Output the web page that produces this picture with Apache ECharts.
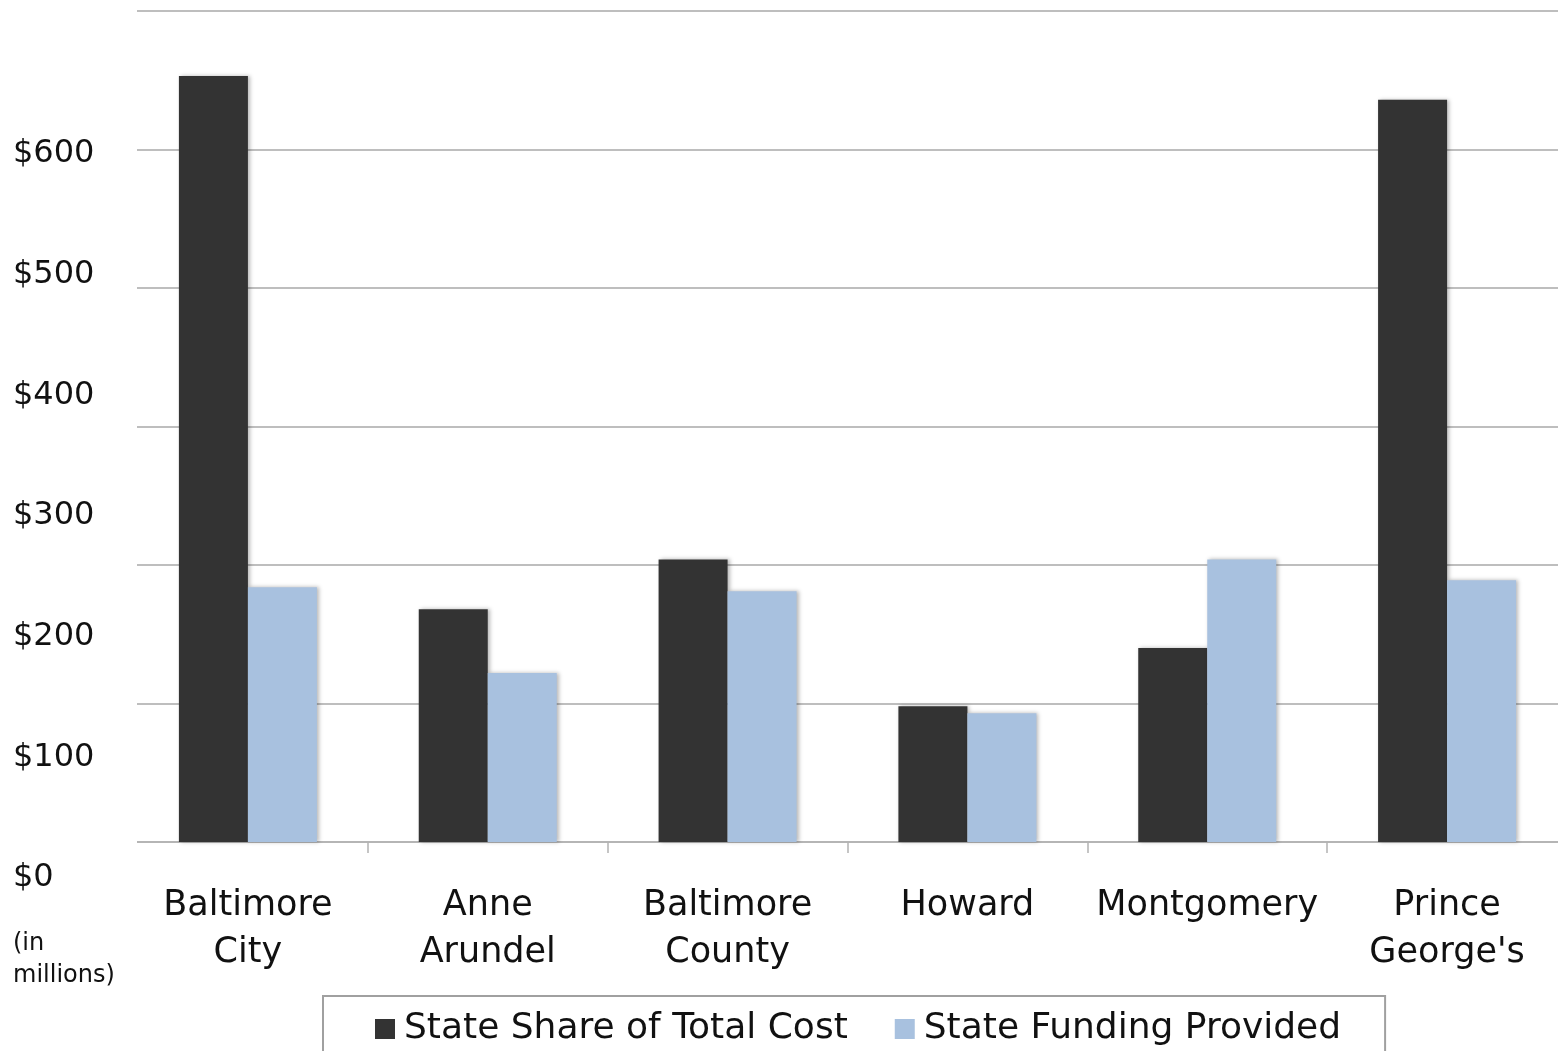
<!DOCTYPE html>
<html>
<head>
<meta charset="utf-8">
<script src="https://cdn.jsdelivr.net/npm/echarts@6/dist/echarts.min.js"></script>
<style>
html,body{margin:0;padding:0;background:#fff;}
#chart{width:1558px;height:1051px;}
</style>
</head>
<body>
<div id="chart"></div>
<script>
const categories = ['Baltimore\nCity', 'Anne\nArundel', 'Baltimore\nCounty', 'Howard', 'Montgomery', "Prince\nGeorge's"];
const stateShare = [553, 168, 204, 98, 140, 536];
const stateFunding = [184, 122, 181, 93, 204, 189];
const seriesNames = ['State Share of Total Cost', 'State Funding Provided'];
const yTickLabels = ['$0', '$100', '$200', '$300', '$400', '$500', '$600'];
const unitNote = '(in\nmillions)';

const FONT = 'DejaVu Sans';
const chart = echarts.init(document.getElementById('chart'), null, {renderer: 'canvas'});

const barShadow = {shadowBlur: 4, shadowOffsetX: 2, shadowOffsetY: 0, shadowColor: 'rgba(0,0,0,0.28)'};

chart.setOption({
  animation: false,
  backgroundColor: '#ffffff',
  textStyle: {fontFamily: FONT},
  grid: [
    {left: 128, width: 1439, top: 11, bottom: 209, containLabel: false, outerBoundsMode: 'none'},
    {left: 100, width: 50, top: 154, bottom: 173, containLabel: false, outerBoundsMode: 'none'}
  ],
  xAxis: [
    {
      type: 'category', gridIndex: 0, data: categories, boundaryGap: true,
      axisLine: {show: true, lineStyle: {color: '#b3b3b3', width: 1.5}},
      axisTick: {show: true, length: 11, interval: 0, lineStyle: {color: '#b3b3b3', width: 1.5}},
      axisLabel: {interval: 0, margin: 40, color: '#111', fontFamily: FONT, fontSize: 35, lineHeight: 47}
    },
    {type: 'value', gridIndex: 1, show: false, min: 0, max: 1}
  ],
  yAxis: [
    {
      type: 'value', gridIndex: 0, min: 0, max: 600, interval: 100,
      axisLine: {show: false}, axisTick: {show: false}, axisLabel: {show: false},
      splitLine: {show: true, lineStyle: {color: '#a8a8a8', width: 1.5}}
    },
    {
      type: 'value', gridIndex: 1, min: 0, max: 600, interval: 100,
      axisLine: {show: false}, axisTick: {show: false}, splitLine: {show: false},
      axisLabel: {
        show: true, align: 'left', margin: 87, color: '#111', fontFamily: FONT, fontSize: 32,
        formatter: function (v) { return yTickLabels[Math.round(v / 100)]; }
      }
    }
  ],
  legend: {
    show: true,
    left: 323, top: 996,
    padding: [13, 44, 40, 52],
    borderColor: '#a0a0a0', borderWidth: 2,
    itemWidth: 20, itemHeight: 20, itemGap: 47,
    icon: 'rect',
    textStyle: {fontFamily: FONT, fontSize: 36, color: '#111', lineHeight: 40, padding: [0, 0, 0, 4]},
    data: seriesNames
  },
  graphic: [
    {type: 'rect', z: 100, shape: {x: 118, y: 0, width: 19, height: 860}, style: {fill: '#ffffff'}},
    {type: 'text', z: 100, left: 13, top: 928,
     style: {text: unitNote, font: '24px "DejaVu Sans"', fill: '#111', lineHeight: 32}}
  ],
  series: [
    {
      name: seriesNames[0], type: 'bar', xAxisIndex: 0, yAxisIndex: 0,
      data: stateShare, barWidth: 69, barGap: '0%',
      itemStyle: Object.assign({color: '#333333'}, barShadow)
    },
    {
      name: seriesNames[1], type: 'bar', xAxisIndex: 0, yAxisIndex: 0,
      data: stateFunding, barWidth: 69, barGap: '0%',
      itemStyle: Object.assign({color: '#a8c1df'}, barShadow)
    }
  ]
});
</script>
</body>
</html>
